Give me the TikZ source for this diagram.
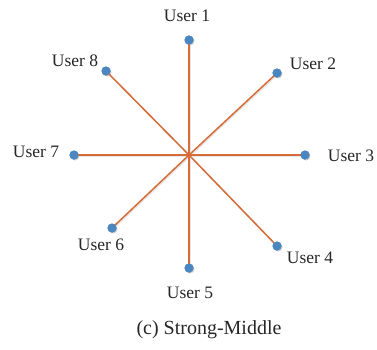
\documentclass[tikz,border=0pt]{standalone}
\usepackage{fontspec}
\setmainfont{Liberation Serif}
\definecolor{dotblue}{RGB}{74,134,192}
\definecolor{linkorange}{RGB}{214,108,56}
\definecolor{shadowgrey}{RGB}{205,205,205}
\begin{document}
\begin{tikzpicture}[x=1pt,y=-1pt,
  userdot/.style={circle,fill=dotblue,inner sep=0pt,minimum size=9pt},
  dotshadow/.style={circle,fill=shadowgrey,inner sep=0pt,minimum size=9pt},
  link/.style={draw=linkorange,line width=1.5pt},
  linkshadow/.style={draw=shadowgrey,line width=1.5pt},
  lbl/.style={font=\fontsize{17.5}{20}\selectfont,inner sep=0pt,text=black!85},
  captext/.style={font=\fontsize{20}{23}\selectfont,inner sep=0pt,text=black!85}]
\useasboundingbox (0,0) rectangle (377,349);
\coordinate (c) at (189,155);
% shadows
\foreach \p in {(190,41),(278,74),(306,156),(278,247),(190,269),(113,229),(75,156),(107,72)}{
  \node[dotshadow] at \p {};
}
\node[userdot] (u1) at (189,40) {};
\node[userdot] (u2) at (277,73) {};
\node[userdot] (u3) at (305,155) {};
\node[userdot] (u4) at (277,246) {};
\node[userdot] (u5) at (189,268) {};
\node[userdot] (u6) at (112,228) {};
\node[userdot] (u7) at (74,155) {};
\node[userdot] (u8) at (106,71) {};
\foreach \u in {u1,u2,u3,u4,u5,u6,u7,u8}{
  \draw[linkshadow,opacity=0.5] ([shift={(1,1)}]c) -- ([shift={(1,1)}]\u.center);
}
\foreach \u in {u1,u2,u3,u4,u5,u6,u7,u8}{
  \draw[link] (c) -- (\u.center);
}
\foreach \u in {u1,u2,u3,u4,u5,u6,u7,u8}{
  \node[userdot] at (\u) {};
}
\node[lbl] (l1) at (187,16) {User 1};
\node[lbl] (l2) at (313,64) {User 2};
\node[lbl] (l3) at (351,156) {User 3};
\node[lbl] (l4) at (310,258) {User 4};
\node[lbl] (l5) at (190,293) {User 5};
\node[lbl] (l6) at (101,245) {User 6};
\node[lbl] (l7) at (36,152) {User 7};
\node[lbl] (l8) at (75,61) {User 8};
\node[captext] (caption) at (209,330) {(c) Strong-Middle};
\end{tikzpicture}
\end{document}
